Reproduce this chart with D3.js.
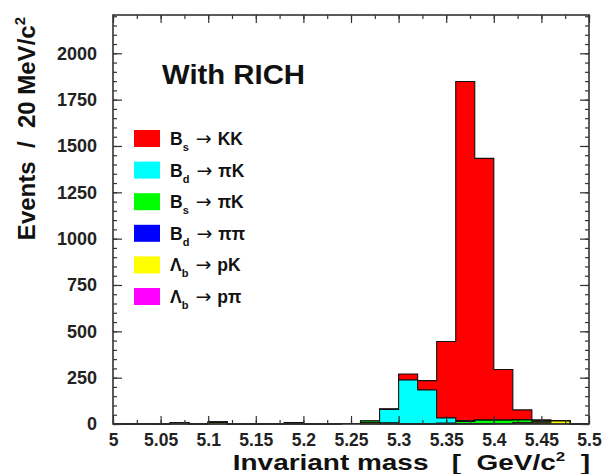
<!DOCTYPE html>
<html><head><meta charset="utf-8">
<script src="https://cdn.jsdelivr.net/npm/d3@7"></script>
<style>
body{margin:0;background:#fff;}
svg{display:block;font-family:"Liberation Sans",Arial,Helvetica,sans-serif;}
</style></head>
<body><svg id="c" width="605" height="474"></svg>
<script>
// bin edges: 25 bins of 20 MeV from 5.00 to 5.50
const binStarts = d3.range(25).map(i => +(5 + i * 0.02).toFixed(2));
// series values per bin (events / 20 MeV)
const LbPpi = [0,0,0,0,0,0,0,0,0,0,0,0,3,0,0,0,0,0,0,0,0,2,2,0,0];
const LbPK  = [0,0,0,5,0,8,0,0,0,0,0,0,0,6,2,0,0,0,2,2,3,5,8,16,0];
const BdPiPi= [0,2,0,0,0,2,0,0,2,6,0,2,0,0,2,0,0,2,0,0,0,0,0,0,0];
const BsPiK = [0,0,0,0,0,0,0,0,0,0,0,0,0,10,3,2,2,3,12,18,18,15,6,2,0];
const BdPiK = [0,0,0,0,0,0,0,0,0,0,0,0,0,0,72,236,182,28,4,2,0,0,0,0,0];
const BsKK  = [0,0,0,0,0,0,0,0,0,0,0,0,0,0,3,32,50,412,1830,1411,273,54,6,0,0];

const seriesNames = ["LbPpi","LbPK","BdPiPi","BsPiK","BdPiK","BsKK"];
const seriesData = {LbPpi, LbPK, BdPiPi, BsPiK, BdPiK, BsKK};
const seriesColors = {LbPpi:"#ff00ff", LbPK:"#ffff00", BdPiPi:"#0000ff", BsPiK:"#00ff00", BdPiK:"#00ffff", BsKK:"#ff0000"};

const legendOrder = ["BsKK","BdPiK","BsPiK","BdPiPi","LbPK","LbPpi"];
const legendMain = {BsKK:["B","s","KK"], BdPiK:["B","d","\u03c0K"], BsPiK:["B","s","\u03c0K"], BdPiPi:["B","d","\u03c0\u03c0"], LbPK:["\u039b","b","pK"], LbPpi:["\u039b","b","p\u03c0"]};

const xTicks = [5,5.05,5.1,5.15,5.2,5.25,5.3,5.35,5.4,5.45,5.5];
const xTickLabels = ["5","5.05","5.1","5.15","5.2","5.25","5.3","5.35","5.4","5.45","5.5"];
const yTicks = [0,250,500,750,1000,1250,1500,1750,2000];
const yTickLabels = ["0","250","500","750","1000","1250","1500","1750","2000"];

const L = 113, R = 589, T = 15, B = 424;
const x = d3.scaleLinear().domain([5, 5.5]).range([L, R]);
const y = d3.scaleLinear().domain([0, 2000]).range([B, 53.3]);
const yTop = y.invert(T);

const svg = d3.select("#c");
const S = "\u00a0";

// stacked histograms
const rows = binStarts.map((s, i) => {
  const o = {x: s};
  seriesNames.forEach(k => o[k] = seriesData[k][i]);
  return o;
});
rows.push(Object.assign({}, rows[rows.length - 1], {x: 5.5}));
const stack = d3.stack().keys(seriesNames)(rows);

const area = d3.area().curve(d3.curveStepAfter)
  .x(d => x(d.data.x)).y0(y(0)).y1(d => y(d[1]));
const line = d3.line().curve(d3.curveStepAfter)
  .x(d => x(d.data.x)).y(d => y(d[1]));

const layers = stack.slice().reverse();
layers.forEach(layer => {
  svg.append("path").attr("d", area(layer)).attr("fill", seriesColors[layer.key]).attr("stroke", "none");
  svg.append("path").attr("d", line(layer)).attr("fill", "none").attr("stroke", "#111").attr("stroke-width", 1.1);
});

// frame
svg.append("rect").attr("x", L).attr("y", T).attr("width", R - L).attr("height", B - T)
  .attr("fill", "none").attr("stroke", "#333").attr("stroke-width", 1.6);

const minorX = d3.range(0, 21).map(i => +(5 + i * 0.025).toFixed(3));
const minorY = d3.range(0, 45).map(i => i * 50).filter(v => v <= yTop);

function styleAxis(g, fs) {
  g.select(".domain").remove();
  g.selectAll(".tick line").attr("stroke", "#333").attr("stroke-width", 1.2);
  g.selectAll("text").attr("font-size", fs).attr("font-weight", "bold").attr("fill", "#222")
    .attr("font-family", "'Liberation Sans',Arial,sans-serif");
}

// bottom axis
svg.append("g").attr("transform", `translate(0,${B})`)
  .call(d3.axisBottom(x).tickValues(minorX).tickFormat("").tickSizeInner(-4).tickSizeOuter(0))
  .call(g => styleAxis(g, 17.5));
svg.append("g").attr("transform", `translate(0,${B})`)
  .call(d3.axisBottom(x).tickValues(xTicks).tickFormat((d, i) => xTickLabels[i]).tickSizeInner(-8).tickSizeOuter(0).tickPadding(9.5))
  .call(g => styleAxis(g, 17.5));
// top axis
svg.append("g").attr("transform", `translate(0,${T})`)
  .call(d3.axisTop(x).tickValues(minorX).tickFormat("").tickSizeInner(-4).tickSizeOuter(0))
  .call(g => styleAxis(g, 18));
svg.append("g").attr("transform", `translate(0,${T})`)
  .call(d3.axisTop(x).tickValues(xTicks).tickFormat("").tickSizeInner(-8).tickSizeOuter(0))
  .call(g => styleAxis(g, 18));
// left axis
svg.append("g").attr("transform", `translate(${L},0)`)
  .call(d3.axisLeft(y).tickValues(minorY).tickFormat("").tickSizeInner(-4).tickSizeOuter(0))
  .call(g => styleAxis(g, 18));
svg.append("g").attr("transform", `translate(${L},0)`)
  .call(d3.axisLeft(y).tickValues(yTicks).tickFormat((d, i) => yTickLabels[i]).tickSizeInner(-9).tickSizeOuter(0).tickPadding(16))
  .call(g => styleAxis(g, 18));
// right axis
svg.append("g").attr("transform", `translate(${R},0)`)
  .call(d3.axisRight(y).tickValues(minorY).tickFormat("").tickSizeInner(-4).tickSizeOuter(0))
  .call(g => styleAxis(g, 18));
svg.append("g").attr("transform", `translate(${R},0)`)
  .call(d3.axisRight(y).tickValues(yTicks).tickFormat("").tickSizeInner(-9).tickSizeOuter(0))
  .call(g => styleAxis(g, 18));

// title box text
svg.append("text").attr("x", 162).attr("y", 84).attr("font-size", 27).attr("font-weight", "bold")
  .attr("fill", "#111").attr("textLength", 143).attr("lengthAdjust", "spacingAndGlyphs").text("With RICH");

// legend
legendOrder.forEach((k, i) => {
  const cy = 138.5 + i * 31.6;
  svg.append("rect").attr("x", 134).attr("y", cy - 8.5).attr("width", 26).attr("height", 17)
    .attr("fill", seriesColors[k]);
  const [main, sub, fin] = legendMain[k];
  const t = svg.append("text").attr("x", 170).attr("y", cy + 6.5).attr("font-size", 17.5)
    .attr("font-weight", "bold").attr("fill", "#111");
  t.append("tspan").text(main);
  t.append("tspan").attr("font-size", 11).attr("dy", 6).text(sub);
  t.append("tspan").attr("dy", -6).attr("dx", 7).attr("font-weight", "normal")
    .attr("font-family", "'DejaVu Sans',sans-serif").attr("font-size", 19).text("\u2192");
  t.append("tspan").attr("dx", 6).text(fin);
});

// axis titles (horizontally stretched like the reference)
const xt = svg.append("g").attr("transform", "translate(590,470) scale(1.3,1)")
  .append("text").attr("text-anchor", "end")
  .attr("font-size", 21.5).attr("font-weight", "bold").attr("fill", "#111");
xt.append("tspan").text("Invariant" + S + "mass" + S + S + S + "[" + S + S + "GeV/c");
xt.append("tspan").attr("font-size", 13).attr("dy", -9).text("2");
xt.append("tspan").attr("dy", 9).text(S + S + "]");

const yt = svg.append("text").attr("transform", "translate(35,17) rotate(-90)").attr("text-anchor", "end")
  .attr("font-size", 24).attr("font-weight", "bold").attr("fill", "#111");
yt.append("tspan").text("Events" + S + S + "/" + S + S + "20" + S + "MeV/c");
yt.append("tspan").attr("font-size", 15).attr("dy", -10).text("2");
</script></body></html>
